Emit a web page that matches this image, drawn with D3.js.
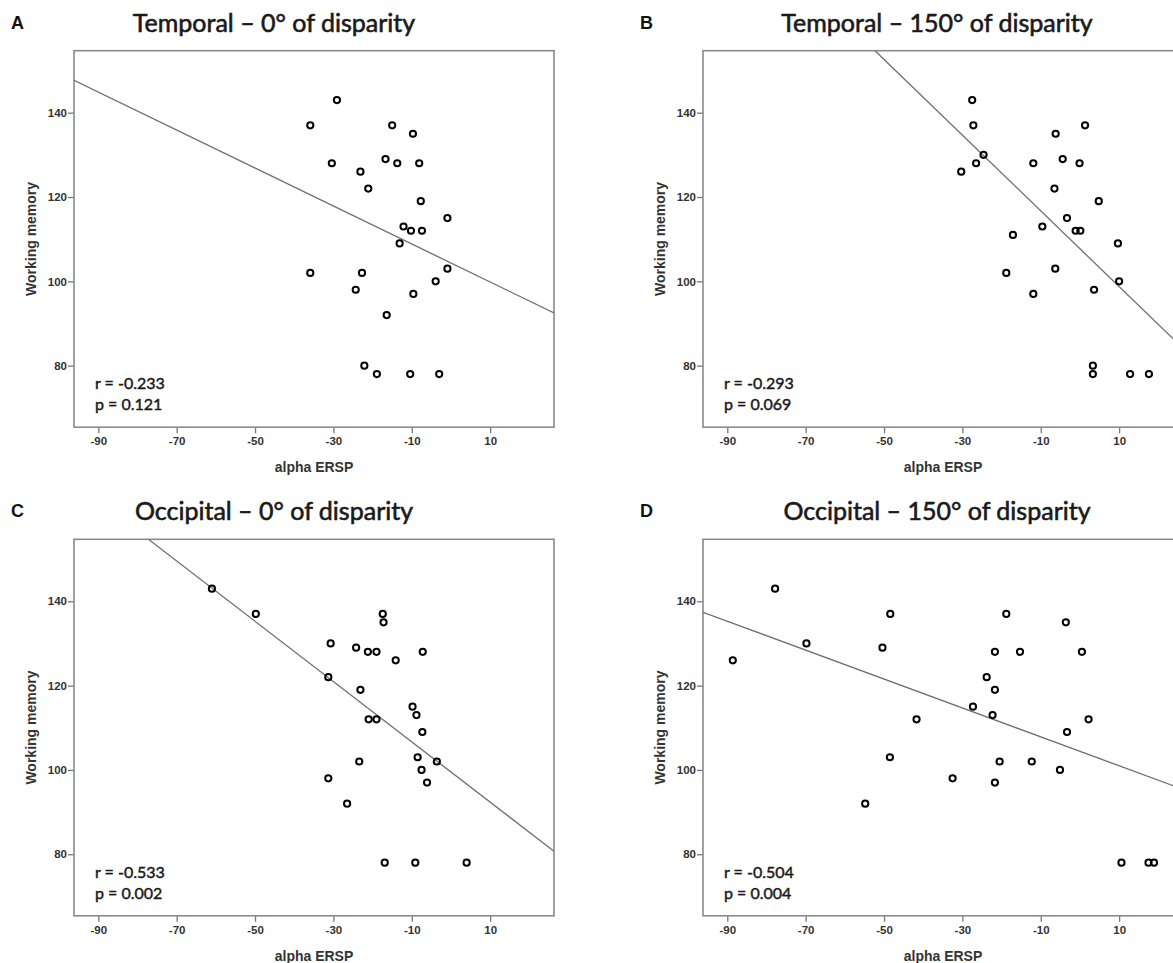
<!DOCTYPE html>
<html>
<head>
<meta charset="utf-8">
<script src="https://cdn.jsdelivr.net/npm/d3@7"></script>
<style>
  body { margin: 0; background: #fff; }
  .title { font-family: Lato, 'Open Sans', sans-serif; font-size: 25px; fill: #1a1a1a; stroke: #1a1a1a; stroke-width: 0.6px; }
  .letter { font-family: 'Liberation Sans', Arial, sans-serif; font-weight: bold; font-size: 18px; fill: #111; }
  .label { font-family: 'Liberation Sans', Arial, sans-serif; font-weight: bold; font-size: 14px; fill: #333; }
  .stat { font-family: Lato, sans-serif; font-size: 16px; fill: #1a1a1a; stroke: #1a1a1a; stroke-width: 0.45px; }
  .axis text { font-family: 'Liberation Sans', Arial, sans-serif; font-weight: bold; font-size: 11.5px; fill: #333; }
  .axis path { display: none; }
  .axis line { stroke: #777; stroke-width: 1.3; }
</style>
</head>
<body>
<div class="svg-container"></div>
<script>
// tick labels shared by all four panels
const xTicks = [-90, -70, -50, -30, -10, 10];
const yTicks = [80, 100, 120, 140];

// panel A: temporal, 0 deg
const ersA = [-29.1, -35.9, -15.0, -9.7, -30.4, -16.7, -13.7, -8.1, -23.1, -21.1, -7.7, -0.9, -12.1, -10.2, -7.4, -13.1, -35.9, -22.7, -0.9, -3.9, -24.3, -9.6, -16.4, -22.1, -18.9, -10.4, -3.0];
const wmA = [143, 137, 137, 135, 128, 129, 128, 128, 126, 122, 119, 115, 113, 112, 112, 109, 102, 102, 103, 100, 98, 97, 92, 80, 78, 78, 78];
const fitA = [[-96.2, 147.7], [26.3, 92.5]];

// panel B: temporal, 150 deg
const ersB = [-27.5, -27.2, 1.3, -6.2, -24.6, -26.5, -11.9, -4.4, -0.1, -30.3, -6.5, 4.8, -3.3, -9.6, -1.1, 0.1, -17.1, 9.7, -6.3, -18.8, 10.0, -11.9, 3.6, 3.3, 3.3, 12.8, 17.6];
const wmB = [143, 137, 137, 135, 130, 128, 128, 129, 128, 126, 122, 119, 115, 113, 112, 112, 111, 109, 103, 102, 100, 97, 98, 80, 78, 78, 78];
const fitB = [[-52.3, 154.7], [26.3, 84.1]];

// panel C: occipital, 0 deg
const ersC = [-61.0, -49.8, -17.4, -17.2, -30.7, -24.2, -21.2, -19.0, -7.2, -14.1, -31.3, -23.1, -9.8, -8.8, -21.0, -19.0, -7.3, -8.5, -3.6, -23.4, -7.5, -31.3, -6.1, -26.5, -16.9, -9.1, 4.0];
const wmC = [143, 137, 137, 135, 130, 129, 128, 128, 128, 126, 122, 119, 115, 113, 112, 112, 109, 103, 102, 102, 100, 98, 97, 92, 78, 78, 78];
const fitC = [[-77.2, 154.7], [26.3, 80.7]];

// panel D: occipital, 150 deg
const ersD = [-77.8, -88.6, -69.8, -48.4, -50.4, -41.7, -48.5, -54.8, -32.5, -27.3, -23.8, -21.7, -21.7, -22.3, -20.5, -21.7, -18.8, -15.3, -12.3, -5.1, -3.6, -3.3, 0.5, 2.2, 10.6, 17.5, 18.9];
const wmD = [143, 126, 130, 137, 129, 112, 103, 92, 98, 115, 122, 128, 119, 113, 102, 97, 137, 128, 102, 100, 135, 109, 128, 112, 78, 78, 78];
const fitD = [[-96.2, 137.4], [26.3, 95.4]];

const letters = ['A', 'B', 'C', 'D'];
const titles = ['Temporal \u2013 0\u00b0 of disparity', 'Temporal \u2013 150\u00b0 of disparity',
  'Occipital \u2013 0\u00b0 of disparity', 'Occipital \u2013 150\u00b0 of disparity'];
const stats = [['r = -0.233', 'p = 0.121'], ['r = -0.293', 'p = 0.069'],
  ['r = -0.533', 'p = 0.002'], ['r = -0.504', 'p = 0.004']];

const panels = [
  { x: ersA, y: wmA, fit: fitA },
  { x: ersB, y: wmB, fit: fitB },
  { x: ersC, y: wmC, fit: fitC },
  { x: ersD, y: wmD, fit: fitD },
];

const width = 1173;
const height = 963;

const svg = d3.select('.svg-container')
  .append('svg')
  .attr('width', width)
  .attr('height', height)

svg.append('rect').attr('width', width).attr('height', height).attr('fill', '#fff')

// box positions of the four plots
const boxLeft = [74, 703];
const boxTop = [50.7, 539.3];
const boxW = 480;
const boxH = 376.5;

// plain hyphen for negatives, like the original
const plainFormat = (d) => String(d);

panels.forEach((p, i) => {
  const left = boxLeft[i % 2];
  const top = boxTop[Math.floor(i / 2)];

  const xScale = d3.scaleLinear().domain([-96.2, 26.3]).range([left, left + boxW]);
  const yScale = d3.scaleLinear().domain([65.4, 154.7]).range([top + boxH, top]);

  const g = svg.append('g')

  // panel letter and title
  g.append('text').attr('class', 'letter')
    .attr('x', left - 63).attr('y', top - 22)
    .text(letters[i])

  g.append('text').attr('class', 'title')
    .attr('x', left + 200 + (i % 2) * 34).attr('y', top - 19)
    .attr('text-anchor', 'middle')
    .text(titles[i])

  // clip for the regression line
  const clipId = 'clip' + i;
  g.append('clipPath').attr('id', clipId)
    .append('rect')
    .attr('x', left).attr('y', top).attr('width', boxW).attr('height', boxH)

  // axes
  g.append('g')
    .attr('class', 'axis')
    .attr('transform', `translate(0, ${top + boxH})`)
    .call(d3.axisBottom(xScale).tickValues(xTicks).tickFormat(plainFormat).tickSize(6).tickPadding(4))

  g.append('g')
    .attr('class', 'axis')
    .attr('transform', `translate(${left}, 0)`)
    .call(d3.axisLeft(yScale).tickValues(yTicks).tickFormat(plainFormat).tickSize(6).tickPadding(1))

  // frame
  g.append('rect')
    .attr('x', left).attr('y', top).attr('width', boxW).attr('height', boxH)
    .attr('fill', 'none').attr('stroke', '#8a8a8a').attr('stroke-width', 1.6)

  // fit line
  g.append('path')
    .datum(p.fit)
    .attr('clip-path', `url(#${clipId})`)
    .attr('d', d3.line().x((d) => xScale(d[0])).y((d) => yScale(d[1])))
    .attr('fill', 'none').attr('stroke', '#6e6e6e').attr('stroke-width', 1.3)

  // points
  g.selectAll('circle.pt')
    .data(p.x.map((v, k) => [v, p.y[k]]))
    .enter().append('circle')
    .attr('class', 'pt')
    .attr('cx', (d) => xScale(d[0]))
    .attr('cy', (d) => yScale(d[1]))
    .attr('r', 3.1)
    .attr('fill', 'none').attr('stroke', '#000').attr('stroke-width', 2)

  // stats
  g.append('text').attr('class', 'stat')
    .attr('x', left + 21).attr('y', top + boxH - 38)
    .text(stats[i][0])
  g.append('text').attr('class', 'stat')
    .attr('x', left + 21).attr('y', top + boxH - 17)
    .text(stats[i][1])

  // axis labels
  g.append('text').attr('class', 'label')
    .attr('text-anchor', 'middle')
    .attr('x', left + boxW / 2).attr('y', top + boxH + 45)
    .text('alpha ERSP')

  g.append('text').attr('class', 'label')
    .attr('text-anchor', 'middle')
    .attr('transform', `translate(${left - 38}, ${top + boxH / 2}) rotate(-90)`)
    .text('Working memory')
});
</script>
</body>
</html>
